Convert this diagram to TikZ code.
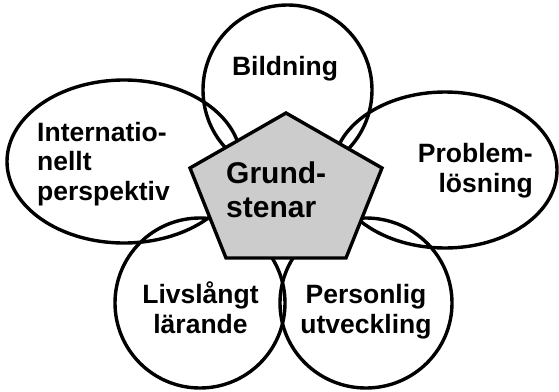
\documentclass[tikz,border=0pt]{standalone}
\usepackage{fontspec}
\setmainfont{Liberation Sans}
\begin{document}
\begin{tikzpicture}[x=1pt,y=-1pt,
  outline/.style={draw=black,line width=3.4pt},
  lbl/.style={inner sep=0pt,font=\bfseries\fontsize{26.5}{29.5}\selectfont},
  core/.style={inner sep=0pt,font=\bfseries\fontsize{30}{34}\selectfont}]
\useasboundingbox (0,0) rectangle (559,391);
% petals
\draw[outline] (287.5,90) ellipse [x radius=84.5, y radius=85];
\draw[outline] (124,161.5) ellipse [x radius=117, y radius=81.5];
\draw[outline] (445,170) ellipse [x radius=112, y radius=78];
\draw[outline] (200,303) ellipse [x radius=85, y radius=85];
\draw[outline] (366,303) ellipse [x radius=86, y radius=85];
% centre pentagon
\coordinate (pT) at (286,113);
\coordinate (pR) at (382,168);
\coordinate (pBR) at (346,258);
\coordinate (pBL) at (226,258);
\coordinate (pL) at (190,168);
\draw[outline,fill=black!20,line join=miter] (pT) -- (pR) -- (pBR) -- (pBL) -- (pL) -- cycle;
% labels (anchor base = baseline of the last line)
\node[lbl,anchor=base] (bild) at (285,75) {Bildning};
\node[lbl,align=left,anchor=base west] (intl) at (37,200) {Internatio-\\nellt\\perspektiv};
\node[lbl,align=right,anchor=base east] (prob) at (533,192) {Problem-\\lösning};
\node[lbl,align=center,anchor=base] (livs) at (200.5,333) {Livslångt\\lärande};
\node[lbl,align=center,anchor=base] (pers) at (366,333) {Personlig\\utveckling};
\node[core,align=left,anchor=base west] (grund) at (226,217) {Grund-\\stenar};
\end{tikzpicture}
\end{document}
